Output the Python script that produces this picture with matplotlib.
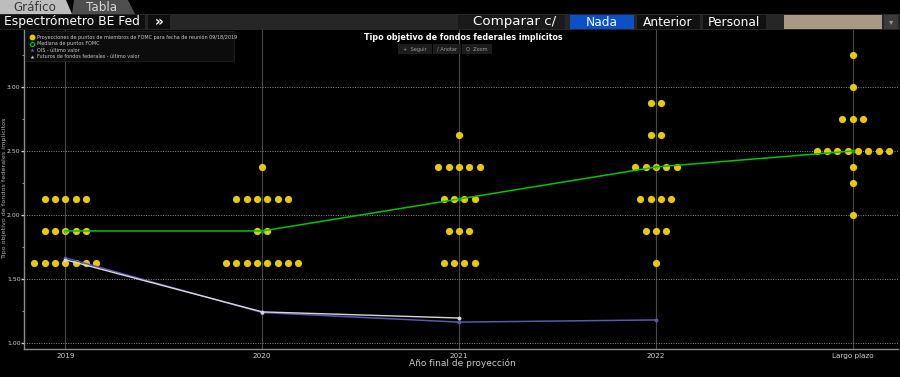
import matplotlib
matplotlib.use("Agg")
import matplotlib.pyplot as plt
from matplotlib.patches import Rectangle, Polygon
from matplotlib.lines import Line2D
import numpy as np

# ---------------- data ----------------
categories = ["2019", "2020", "2021", "2022", "Largo plazo"]

# FOMC dot plot: rate levels and number of participants at each level
dots_2019_rates = [2.125, 1.875, 1.625]
dots_2019_counts = [5, 5, 7]
dots_2020_rates = [2.375, 2.125, 1.875, 1.625]
dots_2020_counts = [1, 6, 2, 8]
dots_2021_rates = [2.625, 2.375, 2.125, 1.875, 1.625]
dots_2021_counts = [1, 5, 4, 3, 4]
dots_2022_rates = [2.875, 2.625, 2.375, 2.125, 1.875, 1.625]
dots_2022_counts = [2, 2, 5, 4, 3, 1]
dots_lr_rates = [3.25, 3.00, 2.75, 2.50, 2.375, 2.25, 2.00]
dots_lr_counts = [1, 1, 3, 8, 1, 1, 1]

median_values = [1.875, 1.875, 2.125, 2.375, 2.50]
ois_values = [1.665, 1.238, 1.163, 1.18]
futures_values = [1.65, 1.243, 1.195]

yticks = [1.00, 1.50, 2.00, 2.50, 3.00]

title = "Tipo objetivo de fondos federales implícitos"
ylabel = "Tipo objetivo de fondos federales implícitos"
xlabel = "Año final de proyección"
legend_labels = [
    "Proyecciones de puntos de miembros de FOMC para fecha de reunión 09/18/2019",
    "Mediana de puntos FOMC",
    "OIS - último valor",
    "Futuros de fondos federales - último valor",
]

# ---------------- figure ----------------
W, H = 900, 377
fig = plt.figure(figsize=(W / 100, H / 100), dpi=100, facecolor="black")

def fx(px):
    return px / W

def fy(py):
    return 1 - py / H

def frect(x0, y0, x1, y1, color, **kw):
    fig.patches.append(Rectangle((fx(x0), fy(y1)), fx(x1) - fx(x0), fy(y0) - fy(y1),
                                 transform=fig.transFigure, facecolor=color,
                                 edgecolor=kw.pop("ec", "none"), lw=kw.pop("lw", 0.6),
                                 zorder=kw.pop("zorder", 1), **kw))

ax = fig.add_axes([fx(24), fy(349), fx(898) - fx(24), fy(30) - fy(349)])
ax.set_facecolor("black")
ax.set_xlim(-0.21, 4.23)
ax.set_ylim(0.953, 3.445)

# grid
for i in range(len(categories)):
    ax.axvline(i, color="#4a4a4a", lw=0.8, zorder=1)
for v in yticks:
    ax.axhline(v, color="#8a8a8a", lw=0.7, ls=(0, (1, 1.5)), zorder=1)

# dots
dot_sets = [
    (dots_2019_rates, dots_2019_counts),
    (dots_2020_rates, dots_2020_counts),
    (dots_2021_rates, dots_2021_counts),
    (dots_2022_rates, dots_2022_counts),
    (dots_lr_rates, dots_lr_counts),
]
spacing = 0.0525
for i, (rates, counts) in enumerate(dot_sets):
    for r, n in zip(rates, counts):
        offs = (np.arange(n) - (n - 1) / 2) * spacing
        ax.plot(i + offs, [r] * n, "o", color="#e8c800", ms=5.2, mew=0, zorder=4)

# lines
x_idx = np.arange(len(categories))
ax.plot(x_idx, median_values, color="#00c400", lw=1.1, zorder=5,
        marker="o", ms=2.2, mfc="none", mec="#00c400", mew=0.6)
ax.plot(x_idx[:len(ois_values)], ois_values, color="#5858b0", lw=1.1, zorder=5,
        marker="o", ms=1.8, mec="#5858b0")
ax.plot(x_idx[:len(futures_values)], futures_values, color="#d8d8d8", lw=1.0, zorder=6,
        marker="o", ms=1.8, mec="#d8d8d8")

# axes styling
for s in ["top", "right"]:
    ax.spines[s].set_visible(False)
for s in ["left", "bottom"]:
    ax.spines[s].set_color("#8c8c8c")
    ax.spines[s].set_linewidth(1.0)
ax.set_yticks(yticks)
ax.set_yticklabels([f"{v:.2f}" for v in yticks])
ax.set_yticks([1.25, 1.75, 2.25, 2.75, 3.25], minor=True)
ax.tick_params(axis="y", which="major", colors="#d0d0d0", labelsize=4.4, length=2,
               width=1.0, direction="out", pad=0.5)
ax.tick_params(axis="y", which="minor", colors="#8c8c8c", length=1.5, width=0.8,
               direction="out")
ax.set_xticks(x_idx)
ax.set_xticklabels(categories)
ax.tick_params(axis="x", colors="#d0d0d0", labelsize=5.2, length=0, pad=3)
for lab in ax.get_yticklabels():
    lab.set_color("#d0d0d0")
    lab.set_fontfamily("DejaVu Sans Condensed")
for lab in ax.get_xticklabels():
    lab.set_color("#d0d0d0")
    lab.set_fontfamily("DejaVu Sans Condensed")

fig.text(fx(462), fy(363), xlabel, color="#c8c8c8", fontsize=6.5, ha="center",
         va="center", family="DejaVu Sans Condensed")
fig.text(fx(3.9), fy(188), ylabel, color="#b0b0b0", fontsize=4.6, ha="center",
         va="center", rotation=90, family="DejaVu Sans Condensed")

# title and toolbar buttons
fig.text(fx(463), fy(38), title, color="white", fontsize=5.8, fontweight="bold",
         ha="center", va="center")
for (x0, x1, lbl) in [(398, 432, "+  Seguir"), (433, 461, "/ Anotar"), (462, 492, "Q  Zoom")]:
    frect(x0, 44, x1, 54, "#1c1c1c", zorder=3)
    fig.text(fx((x0 + x1) / 2), fy(49), lbl, color="#a0a0a0", fontsize=3.6,
             ha="center", va="center", zorder=4)

# legend box
frect(25, 31, 234, 61, "#0c0c0c", ec="#202020", zorder=3)
leg_y = [37, 43.5, 50, 56.5]
leg_style = [
    dict(marker="o", color="#e8c800", ms=4.2, mew=0),
    dict(marker="o", color="none", mec="#00c400", ms=3, mew=0.8),
    dict(marker="*", color="#6a6acc", ms=3, mew=0),
    dict(marker="*", color="#d0d0d0", ms=3, mew=0),
]
for yy, lbl, st in zip(leg_y, legend_labels, leg_style):
    fig.lines.append(Line2D([fx(32)], [fy(yy)], transform=fig.transFigure, ls="none",
                            zorder=5, **{k: v for k, v in st.items() if k != "color"},
                            mfc=st["color"] if st["color"] != "none" else "none"))
    fig.text(fx(37), fy(yy), lbl, color="#c8c8c8", fontsize=3.5, ha="left",
             va="center", zorder=5, family="DejaVu Sans Condensed")

# ---------------- header UI ----------------
# tab strip
frect(0, 0, 900, 14, "#000000", zorder=2)
fig.patches.append(Polygon([(fx(0), fy(14)), (fx(0), fy(0)), (fx(66), fy(0)), (fx(72), fy(14))],
                           closed=True, transform=fig.transFigure, facecolor="#bdbdbd",
                           edgecolor="none", zorder=3))
fig.patches.append(Polygon([(fx(72), fy(14)), (fx(74), fy(0)), (fx(128), fy(0)), (fx(135), fy(14))],
                           closed=True, transform=fig.transFigure, facecolor="#4e4e4e",
                           edgecolor="none", zorder=3))
fig.text(fx(35), fy(7.2), "Gráfico", color="#3a3a3a", fontsize=8.6, ha="center",
         va="center", zorder=4)
fig.text(fx(102), fy(7.2), "Tabla", color="#d8d8d8", fontsize=8.6, ha="center",
         va="center", zorder=4)
# header bar
frect(0, 14, 900, 30, "#262626", zorder=2)
frect(0, 15, 145, 29, "#0e0e0e", zorder=3)
fig.text(fx(4), fy(22), "Espectrómetro BE Fed", color="white", fontsize=8.8, ha="left",
         va="center", zorder=4)
frect(148, 15, 170, 29, "#0e0e0e", zorder=3)
fig.text(fx(159), fy(22), "»", color="white", fontsize=10, ha="center", va="center",
         zorder=4, fontweight="bold")
frect(458, 15, 565, 29, "#1a1a1a", zorder=3)
fig.text(fx(515), fy(22), "Comparar c/", color="white", fontsize=9.6, ha="center",
         va="center", zorder=4)
frect(570, 15, 634, 29, "#0a50c8", zorder=3)
fig.text(fx(602), fy(22), "Nada", color="white", fontsize=8.8, ha="center",
         va="center", zorder=4)
frect(637, 15, 700, 29, "#111111", zorder=3)
fig.text(fx(668), fy(22), "Anterior", color="white", fontsize=8.8, ha="center",
         va="center", zorder=4)
frect(703, 15, 766, 29, "#111111", zorder=3)
fig.text(fx(734), fy(22), "Personal", color="white", fontsize=8.8, ha="center",
         va="center", zorder=4)
frect(784, 15, 882, 29, "#a99886", zorder=3)
frect(884, 15, 898, 29, "#3c3c3c", zorder=3)
fig.text(fx(891), fy(22), "▾", color="#9a9a9a", fontsize=6, ha="center",
         va="center", zorder=4)

fig.savefig("out.png", dpi=100, facecolor="black")
